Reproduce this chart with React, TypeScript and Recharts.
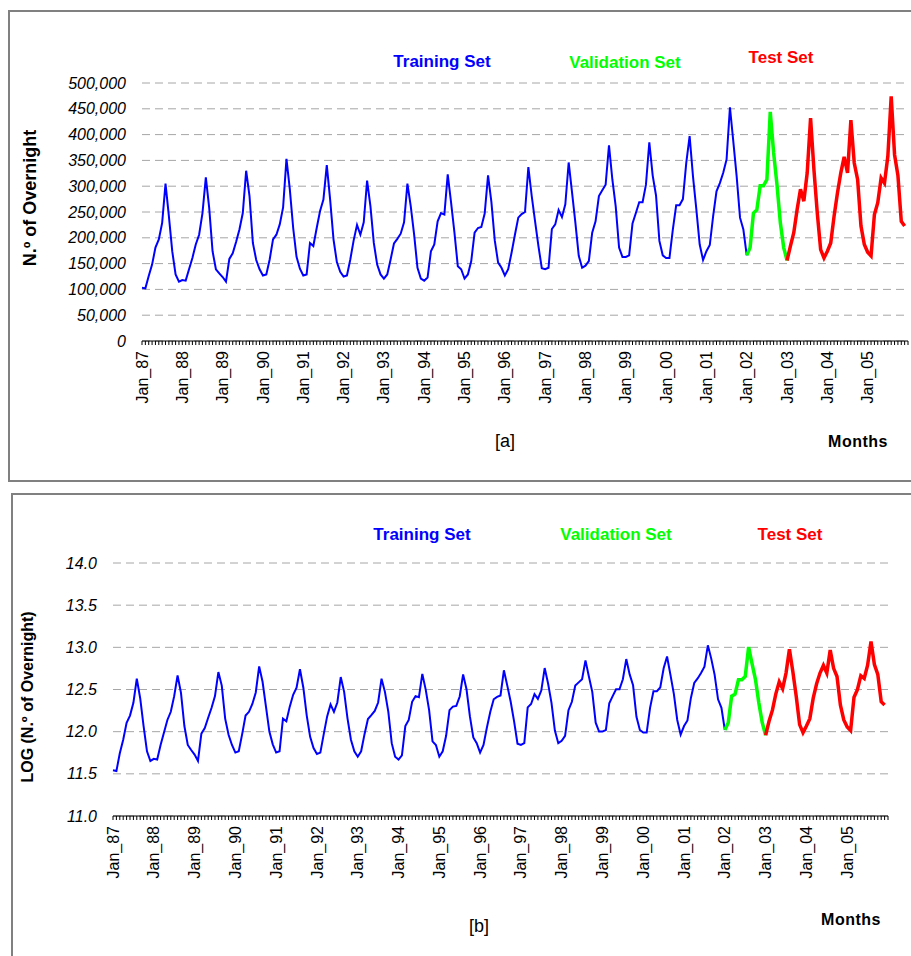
import React from 'react';
import { LineChart, Line, XAxis, YAxis, CartesianGrid } from 'recharts';

// Jan labels on the month axis, one per year
const YEAR_LABELS = ['Jan_87', 'Jan_88', 'Jan_89', 'Jan_90', 'Jan_91', 'Jan_92', 'Jan_93', 'Jan_94', 'Jan_95', 'Jan_96',
  'Jan_97', 'Jan_98', 'Jan_99', 'Jan_00', 'Jan_01', 'Jan_02', 'Jan_03', 'Jan_04', 'Jan_05'];

// monthly overnight stays, Jan 87 .. Dec 05 ([a])
const OVERNIGHT = [
  103000, 102000, 126000, 148000, 181000, 197000, 229000, 305000, 242000, 174000, 129000, 115000,
  118000, 117000, 139000, 161000, 187000, 206000, 248000, 317000, 258000, 174000, 139000, 131000,
  124000, 115000, 159000, 170000, 192000, 216000, 248000, 330000, 281000, 190000, 157000, 139000,
  127000, 129000, 158000, 197000, 206000, 226000, 259000, 353000, 294000, 219000, 163000, 140000,
  127000, 129000, 190000, 184000, 219000, 252000, 274000, 341000, 274000, 197000, 153000, 134000,
  125000, 127000, 158000, 195000, 225000, 206000, 230000, 311000, 261000, 190000, 148000, 129000,
  121000, 129000, 158000, 189000, 198000, 208000, 230000, 305000, 261000, 206000, 142000, 121000,
  117000, 123000, 174000, 187000, 232000, 248000, 245000, 323000, 268000, 210000, 145000, 139000,
  121000, 129000, 155000, 210000, 219000, 221000, 247000, 321000, 269000, 195000, 152000, 142000,
  127000, 139000, 171000, 206000, 239000, 246000, 250000, 337000, 281000, 232000, 184000, 141000,
  139000, 142000, 217000, 226000, 254000, 240000, 265000, 346000, 288000, 229000, 165000, 142000,
  146000, 155000, 210000, 232000, 281000, 292000, 303000, 379000, 313000, 261000, 181000, 163000,
  163000, 166000, 228000, 248000, 269000, 269000, 303000, 385000, 321000, 282000, 194000, 166000,
  161000, 161000, 216000, 263000, 263000, 275000, 345000, 397000, 319000, 255000, 187000, 157000,
  174000, 186000, 242000, 290000, 306000, 326000, 352000, 453000, 387000, 319000, 239000, 216000,
  166000, 181000, 248000, 254000, 301000, 301000, 313000, 444000, 365000, 303000, 229000, 181000,
  156000, 184000, 210000, 255000, 294000, 271000, 326000, 432000, 332000, 248000, 177000, 161000,
  174000, 190000, 242000, 287000, 326000, 357000, 326000, 428000, 345000, 313000, 223000, 187000,
  172000, 165000, 245000, 268000, 316000, 306000, 358000, 474000, 361000, 321000, 232000, 223000,
];

const VALIDATION_START = 180; // Jan_02
const TEST_START = 192; // Jan_03

const OVERNIGHT_TICKS = [0, 50000, 100000, 150000, 200000, 250000, 300000, 350000, 400000, 450000, 500000];
const LOG_TICKS = [11, 11.5, 12, 12.5, 13, 13.5, 14];

const split = (vals: number[]) =>
  vals.map((v, i) => ({
    idx: i,
    train: i <= VALIDATION_START ? v : null,
    val: i >= VALIDATION_START && i <= TEST_START ? v : null,
    test: i >= TEST_START ? v : null,
  }));

const rawData = split(OVERNIGHT);
// panel [b] is the natural log of the same series
const logData = split(OVERNIGHT.map((v) => Math.log(v)));

const monthTicks = Array.from({ length: OVERNIGHT.length + 1 }, (_, i) => i);

const FONT = '"Liberation Sans", Arial, sans-serif';

const MonthTick = (props: any) => {
  const { x, y, payload } = props;
  const v = payload.value;
  if (v % 12 !== 0 || v / 12 >= YEAR_LABELS.length) return <g />;
  return (
    <text x={x} y={y} transform={`rotate(-90, ${x}, ${y})`} textAnchor="end" dy="0.35em"
      fontSize={16} fontFamily={FONT} fill="#000">
      {YEAR_LABELS[v / 12]}
    </text>
  );
};

const makeYTick = (fmt: (v: number) => string) => (props: any) => {
  const { x, y, payload } = props;
  return (
    <text x={x} y={y} textAnchor="end" dy="0.35em" fontSize={16} fontStyle="italic" fontFamily={FONT} fill="#000">
      {fmt(payload.value)}
    </text>
  );
};

const RawYTick = makeYTick((v) => v.toLocaleString('en-US'));
const LogYTick = makeYTick((v) => v.toFixed(1));

function Panel({ data, yTicks, yDomain, YTick, yWidth, margin }: any) {
  return (
    <LineChart width={911} height={478} data={data} margin={margin}>
      <CartesianGrid vertical={false} stroke="#a6a6a6" strokeDasharray="8 5" />
      <XAxis dataKey="idx" type="number" domain={[0, 228]} ticks={monthTicks} interval={0}
        tick={<MonthTick />} tickSize={4} tickMargin={6} height={100}
        axisLine={{ stroke: '#000' }} tickLine={{ stroke: '#000' }} />
      <YAxis type="number" domain={yDomain} ticks={yTicks} interval={0} width={yWidth}
        axisLine={false} tickLine={false} tickMargin={10} tick={<YTick />} />
      <Line dataKey="train" type="linear" stroke="#0000ff" strokeWidth={2} dot={false} isAnimationActive={false} />
      <Line dataKey="val" type="linear" stroke="#00ff00" strokeWidth={3.5} dot={false} isAnimationActive={false} />
      <Line dataKey="test" type="linear" stroke="#ff0000" strokeWidth={3.5} dot={false} isAnimationActive={false} />
    </LineChart>
  );
}

const setLabel = { fontFamily: FONT, fontWeight: 700, fontSize: 17 };

export default function App() {
  return (
    <div style={{ position: 'absolute', left: 0, top: 0, width: 911, height: 956, overflow: 'hidden', background: '#fff' }}>
      <div style={{ position: 'absolute', left: 8, top: 10, width: 940, height: 468, border: '2px solid #808080' }} />
      <div style={{ position: 'absolute', left: 11, top: 493, width: 940, height: 520, border: '2px solid #808080' }} />

      <div style={{ position: 'absolute', left: 0, top: 0 }}>
        <Panel data={rawData} yTicks={OVERNIGHT_TICKS} yDomain={[0, 500000]} YTick={RawYTick} yWidth={142}
          margin={{ top: 83, right: 3, bottom: 37, left: 0 }} />
      </div>
      <div style={{ position: 'absolute', left: 0, top: 480 }}>
        <Panel data={logData} yTicks={LOG_TICKS} yDomain={[11, 14]} YTick={LogYTick} yWidth={113}
          margin={{ top: 83, right: 23, bottom: 42, left: 0 }} />
      </div>

      <svg width={911} height={956} style={{ position: 'absolute', left: 0, top: 0, pointerEvents: 'none' }}>
        <g style={setLabel} textAnchor="middle" dominantBaseline="central">
          <text x={442} y={61} fill="#0000ff">Training Set</text>
          <text x={625} y={62} fill="#00ff00">Validation Set</text>
          <text x={781} y={57} fill="#ff0000">Test Set</text>
          <text x={422} y={534} fill="#0000ff">Training Set</text>
          <text x={616} y={534} fill="#00ff00">Validation Set</text>
          <text x={790} y={534} fill="#ff0000">Test Set</text>
          <text x={858} y={441} fill="#000" fontSize={16} letterSpacing={0.5}>Months</text>
          <text x={851} y={919} fill="#000" fontSize={16} letterSpacing={0.5}>Months</text>
          <text x={30} y={198} fill="#000" fontSize={18} transform="rotate(-90, 30, 198)">N.º of Overnight</text>
          <text x={27} y={697} fill="#000" fontSize={16} transform="rotate(-90, 27, 697)">LOG (N.º of Overnight)</text>
        </g>
        <g fontFamily={FONT} fontSize={18} textAnchor="middle" dominantBaseline="central" fill="#000">
          <text x={505} y={441}>[a]</text>
          <text x={479} y={926}>[b]</text>
        </g>
      </svg>
    </div>
  );
}
